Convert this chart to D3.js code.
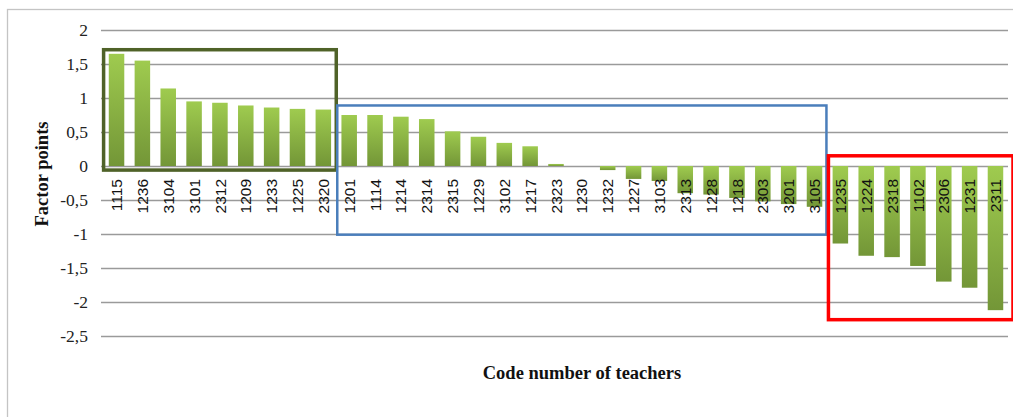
<!DOCTYPE html>
<html>
  <head>
    <meta charset="utf-8">
    <title>Factor points</title>
    <style>
      body { margin: 0; background: #fff; }
      svg { display: block; }
      .grid line { stroke: #9a9a9a; stroke-width: 1.3; }
      .ytick { font-family: "Liberation Serif", serif; font-size: 17.5px; fill: #222; }
      .xtick { font-family: "Liberation Sans", Arial, sans-serif; font-size: 15.5px; fill: #111; }
      .title { font-family: "Liberation Serif", serif; font-size: 18.5px; font-weight: bold; fill: #111; }
    </style>
    <script src="https://d3js.org/d3.v7.min.js" charset="utf-8"></script>
  </head>
  <body>
    <svg id="chart" width="1013" height="417"></svg>
    <script>
      var teachers = ["1115","1236","3104","3101","2312","1209","1233","1225","2320",
                      "1201","1114","1214","2314","2315","1229","3102","1217","2323","1230",
                      "1232","1227","3103","2313","1228","1218","2303","3201","3105",
                      "1235","1224","2318","1102","2306","1231","2311"];
      var factorPoints = [1.65,1.55,1.14,0.95,0.93,0.89,0.86,0.84,0.83,
                          0.75,0.75,0.725,0.69,0.51,0.43,0.34,0.29,0.03,0,
                          -0.06,-0.19,-0.22,-0.4,-0.42,-0.47,-0.52,-0.56,-0.6,
                          -1.14,-1.32,-1.34,-1.47,-1.7,-1.79,-2.12];
      var yTicks = [2,1.5,1,0.5,0,-0.5,-1,-1.5,-2,-2.5];
      // groups framed on the chart: first / last code, top / bottom in factor units
      var groupFirst = ["1115","1201","1235"];
      var groupLast = ["2320","3105","2311"];
      var groupTop = [1.71,0.89,0.15];
      var groupBottom = [-0.06,-1.01,-2.26];
      var groupColor = ["#4f6228","#4a7ebb","#ff0000"];

      var svg = d3.select("#chart");

      // outer frame
      svg.append("rect").attr("x", 7.5).attr("y", 9.5)
        .attr("width", 1020).attr("height", 420)
        .attr("fill", "none").attr("stroke", "#c4c4c4").attr("stroke-width", 1.3);

      var x = d3.scaleBand().domain(teachers).range([103.6, 1008.4])
        .paddingInner(0.4).paddingOuter(0.2);
      var y = d3.scaleLinear().domain([-2.5, 2]).range([336, 30]);

      var defs = svg.append("defs");
      var grad = defs.append("linearGradient").attr("id", "barGrad")
        .attr("x1", 0).attr("y1", 0).attr("x2", 0).attr("y2", 1);
      grad.append("stop").attr("offset", "0%").attr("stop-color", "#9fcb4f");
      grad.append("stop").attr("offset", "100%").attr("stop-color", "#739637");

      // gridlines
      svg.append("g").attr("class", "grid")
        .selectAll("line").data(yTicks).enter().append("line")
        .attr("x1", 101).attr("x2", 1008)
        .attr("y1", function(d) { return Math.round(y(d)) + 0.5; })
        .attr("y2", function(d) { return Math.round(y(d)) + 0.5; });

      // y tick labels
      svg.append("g").selectAll("text").data(yTicks).enter().append("text")
        .attr("class", "ytick")
        .attr("x", 88).attr("y", function(d) { return y(d); })
        .attr("dy", "0.35em").attr("text-anchor", "end")
        .text(function(d) { return String(d).replace(".", ","); });

      // bars
      svg.append("g").selectAll("rect").data(teachers).enter().append("rect")
        .attr("x", function(d) { return x(d); })
        .attr("width", x.bandwidth())
        .attr("y", function(d, i) { return y(Math.max(0, factorPoints[i])); })
        .attr("height", function(d, i) { return Math.abs(y(factorPoints[i]) - y(0)); })
        .attr("fill", "url(#barGrad)");

      // category labels
      svg.append("g").selectAll("text").data(teachers).enter().append("text")
        .attr("class", "xtick")
        .attr("transform", function(d) {
          return "translate(" + (x(d) + x.bandwidth() / 2) + ",179) rotate(-90)";
        })
        .attr("dy", "0.36em").attr("text-anchor", "end")
        .text(function(d) { return d; });

      // group frames
      var step = x.step();
      svg.append("g").selectAll("rect").data(groupFirst).enter().append("rect")
        .attr("x", function(d, i) { return x(d) - step * 0.2 + (i == 0 ? 0 : 1); })
        .attr("y", function(d, i) { return y(groupTop[i]); })
        .attr("width", function(d, i) {
          var x2 = x(groupLast[i]) + x.bandwidth() + step * 0.2;
          if (i == 2) x2 = 1012;
          if (i == 1) x2 -= 2;
          return x2 - (x(d) - step * 0.2);
        })
        .attr("height", function(d, i) { return y(groupBottom[i]) - y(groupTop[i]); })
        .attr("fill", "none")
        .attr("stroke", function(d, i) { return groupColor[i]; })
        .attr("stroke-width", function(d, i) { return i == 1 ? 2.5 : 3.5; });

      // axis titles
      svg.append("text").attr("class", "title")
        .attr("transform", "translate(48,174) rotate(-90)")
        .attr("text-anchor", "middle")
        .text("Factor points");
      svg.append("text").attr("class", "title")
        .attr("x", 582).attr("y", 379)
        .attr("text-anchor", "middle")
        .text("Code number of teachers");
    </script>
  </body>
</html>
